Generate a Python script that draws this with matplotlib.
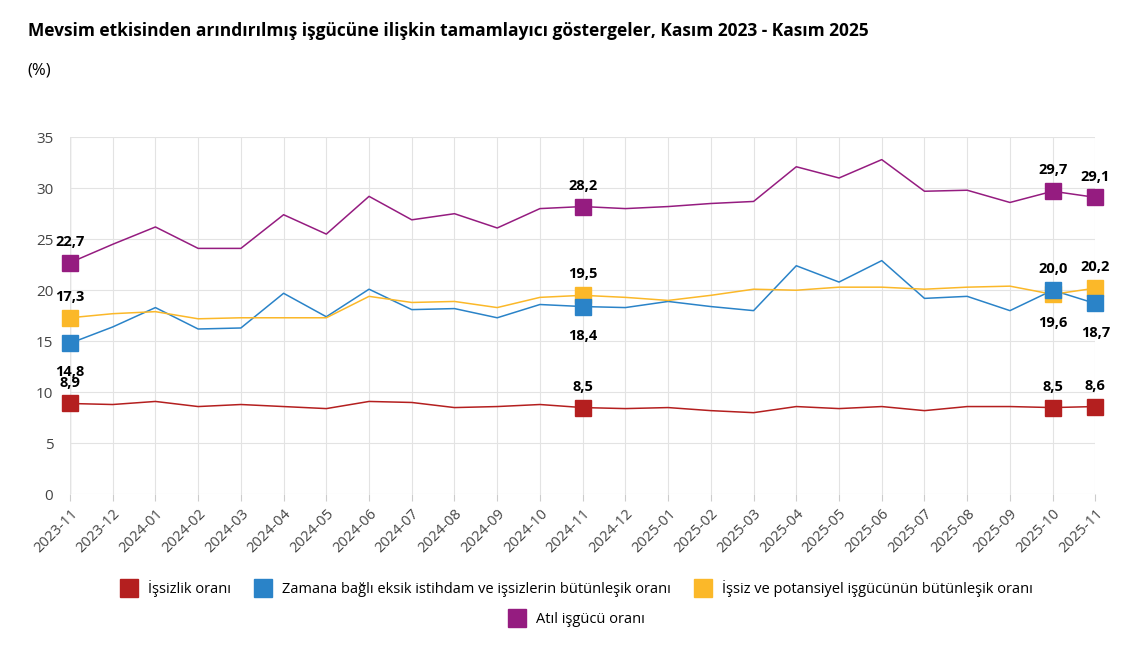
import matplotlib.pyplot as plt
from matplotlib.lines import Line2D

plt.rcParams['font.family'] = ['Open Sans', 'DejaVu Sans']

months = ["2023-11", "2023-12", "2024-01", "2024-02", "2024-03", "2024-04", "2024-05",
          "2024-06", "2024-07", "2024-08", "2024-09", "2024-10", "2024-11", "2024-12",
          "2025-01", "2025-02", "2025-03", "2025-04", "2025-05", "2025-06", "2025-07",
          "2025-08", "2025-09", "2025-10", "2025-11"]

issizlik = [8.9, 8.8, 9.1, 8.6, 8.8, 8.6, 8.4, 9.1, 9.0, 8.5, 8.6, 8.8, 8.5, 8.4, 8.5,
            8.2, 8.0, 8.6, 8.4, 8.6, 8.2, 8.6, 8.6, 8.5, 8.6]
zamana = [14.8, 16.4, 18.3, 16.2, 16.3, 19.7, 17.4, 20.1, 18.1, 18.2, 17.3, 18.6, 18.4,
          18.3, 18.9, 18.4, 18.0, 22.4, 20.8, 22.9, 19.2, 19.4, 18.0, 20.0, 18.7]
potansiyel = [17.3, 17.7, 17.9, 17.2, 17.3, 17.3, 17.3, 19.4, 18.8, 18.9, 18.3, 19.3, 19.5,
              19.3, 19.0, 19.5, 20.1, 20.0, 20.3, 20.3, 20.1, 20.3, 20.4, 19.6, 20.2]
atil = [22.7, 24.5, 26.2, 24.1, 24.1, 27.4, 25.5, 29.2, 26.9, 27.5, 26.1, 28.0, 28.2,
        28.0, 28.2, 28.5, 28.7, 32.1, 31.0, 32.8, 29.7, 29.8, 28.6, 29.7, 29.1]

marked = [0, 12, 23, 24]

# name, values, colour, label-below indices, marker zorder
series = [
    ("İşsizlik oranı", issizlik, "#b41f1f", [], 4),
    ("Zamana bağlı eksik istihdam ve işsizlerin bütünleşik oranı", zamana, "#2a83c8", [0, 12, 24], 6),
    ("İşsiz ve potansiyel işgücünün bütünleşik oranı", potansiyel, "#fbb829", [23], 5),
    ("Atıl işgücü oranı", atil, "#951c80", [], 4),
]

fig = plt.figure(figsize=(11.47, 6.47), dpi=100)
ax = fig.add_axes([0.061, 0.236, 0.894, 0.552])
x = list(range(len(months)))

for name, vals, color, below, mz in series:
    ax.plot(x, vals, color=color, lw=1.1, label=name, zorder=3)
    for i in marked:
        ax.plot(x[i], vals[i], marker='s', ms=12, color=color, zorder=mz, clip_on=False)
        off = -21 if i in below else 15
        ax.annotate(f"{vals[i]:.1f}".replace('.', ','), (x[i], vals[i]),
                    xytext=(0, off), textcoords='offset points', ha='center', va='center',
                    fontsize=10.5, fontweight='bold', zorder=7, annotation_clip=False)

ax.set_xlim(0, len(months) - 1)
ax.set_ylim(0, 35)
ax.set_yticks(range(0, 36, 5))
ax.set_xticks(x)
ax.set_xticklabels(months, rotation=45, ha='right', rotation_mode='anchor', fontsize=10.5, color='#444444')
ax.tick_params(axis='y', labelsize=11, colors='#444444', length=0, pad=12)
ax.tick_params(axis='x', length=5, color='#cccccc')
ax.grid(True, color='#e3e3e3', lw=0.8)
for s in ax.spines.values():
    s.set_visible(False)
ax.axvline(0, color='#cccccc', lw=1, zorder=1)

fig.text(0.024, 0.945, "Mevsim etkisinden arındırılmış işgücüne ilişkin tamamlayıcı göstergeler, Kasım 2023 - Kasım 2025",
         fontsize=12.5, fontweight='bold')
fig.text(0.024, 0.885, "(%)", fontsize=12)

labels = [s[0] for s in series]
hs = [Line2D([], [], marker='s', ls='none', ms=13, color=s[2]) for s in series]
fig.legend(hs[:3], labels[:3], loc='center', bbox_to_anchor=(0.5, 0.09), ncol=3, frameon=False,
           fontsize=10.5, handletextpad=0.3, columnspacing=1.2)
fig.legend(hs[3:], labels[3:], loc='center', bbox_to_anchor=(0.5, 0.043), ncol=1, frameon=False,
           fontsize=10.5, handletextpad=0.3)

fig.savefig("out.png", dpi=100)
